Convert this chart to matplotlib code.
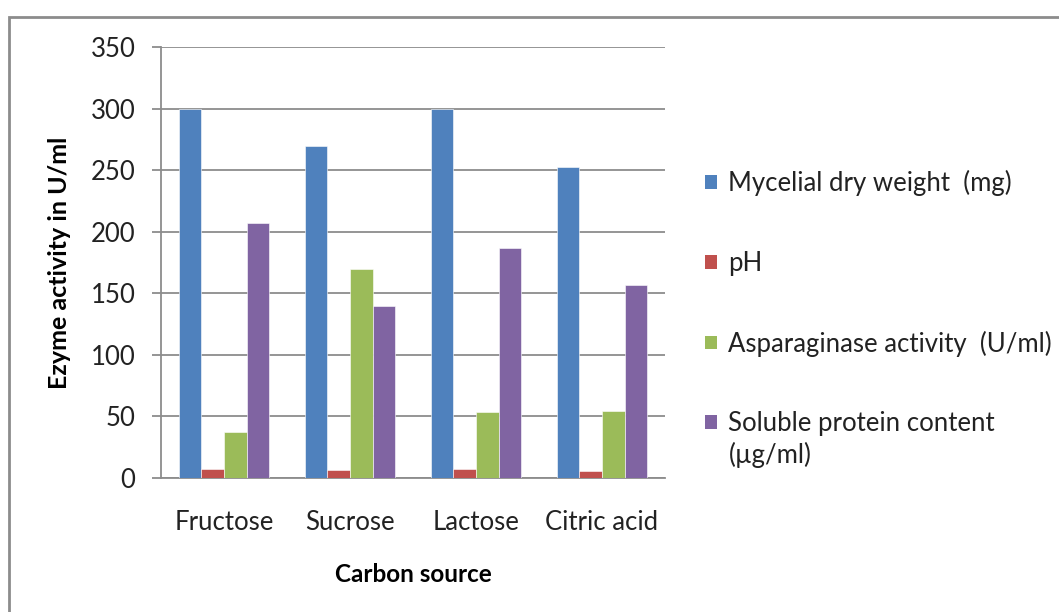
import matplotlib.pyplot as plt
import numpy as np
from matplotlib.patches import Rectangle, Patch

plt.rcParams['font.family'] = ['Lato', 'DejaVu Sans']

sources = ['Fructose', 'Sucrose', 'Lactose', 'Citric acid']
series_names = ['Mycelial dry weight  (mg)', 'pH',
                'Asparaginase activity  (U/ml)',
                'Soluble protein content']
protein_unit = '(\u00b5g/ml)'
dry_weight = [300, 270, 300, 252.5]
ph = [7.6, 6.8, 7.6, 5.7]
asparaginase = [37, 170, 53.5, 54.5]
protein = [207, 140, 187, 157]
colors = ['#4F81BD', '#C0504D', '#9BBB59', '#8064A2']
yticks = [0, 50, 100, 150, 200, 250, 300, 350]

W, H = 1059, 612
fig = plt.figure(figsize=(W / 100, H / 100), dpi=100)
ax = fig.add_axes([161 / W, 1 - 478 / H, 504 / W, 431 / H])

# outer chart border (top and left edges visible)
fig.patches.append(Rectangle((8.5 / W, -0.1), 1.2, 1 - 17 / H + 0.1,
                             transform=fig.transFigure, fill=False,
                             edgecolor='#8c8c8c', linewidth=2))

x = np.arange(len(sources))
w = 0.18
data = [dry_weight, ph, asparaginase, protein]
for i, vals in enumerate(data):
    ax.bar(x + (i - 1.5) * w, vals, w, color=colors[i],
           edgecolor='white', linewidth=0.4, zorder=3)

ax.set_xlim(-0.5, len(sources) - 0.5)
ax.set_ylim(0, 350)
ax.set_yticks(yticks)
ax.set_xticks(x)
ax.set_xticklabels(sources)
ax.yaxis.grid(True, color='#8c8c8c', linewidth=1.3, zorder=0)
ax.set_axisbelow(True)

for s in ['top', 'right']:
    ax.spines[s].set_visible(False)
for s in ['left', 'bottom']:
    ax.spines[s].set_color('#8c8c8c')
    ax.spines[s].set_linewidth(1.3)

ax.tick_params(axis='y', length=6.5, width=1.3, color='#8c8c8c', pad=12,
               labelsize=18.5, labelcolor='#222222')
ax.tick_params(axis='x', length=0, pad=23, labelsize=18.5,
               labelcolor='#222222')

ax.set_xlabel('Carbon source', fontsize=17.5, fontweight='bold', labelpad=20)
ax.set_ylabel('Ezyme activity in U/ml', fontsize=18, fontweight='bold',
              labelpad=14)

handles = [Patch(facecolor=c, edgecolor='none') for c in colors]
fig.legend(handles, series_names, loc='upper left',
           bbox_to_anchor=(705 / W, 1 - 170 / H), frameon=False,
           fontsize=18.5, handlelength=0.45, handleheight=0.45,
           handletextpad=0.45, labelspacing=2.13, borderpad=0,
           borderaxespad=0, labelcolor='#222222')
# second line of the last legend entry
fig.text(729 / W, 1 - 455 / H, protein_unit, fontsize=18.5,
         color='#222222', va='center', ha='left')

fig.savefig('out.png', dpi=100)
